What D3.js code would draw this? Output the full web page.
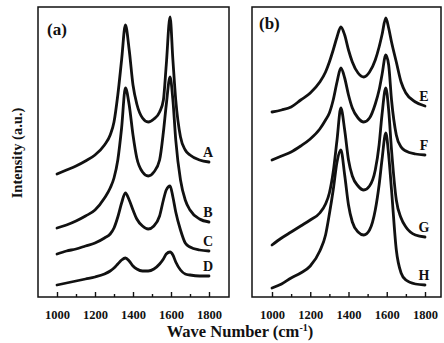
<!DOCTYPE html>
<html>
<head>
<meta charset="utf-8">
<script src="https://cdn.jsdelivr.net/npm/d3@7"></script>
<style>
	body { margin: 0; background: white; }
	svg { display: block; }
	text { font-family: "Liberation Serif", "DejaVu Serif", serif; fill: #111; }
</style>
</head>
<body>
<div id="chart"></div>
<script>
// wave numbers (cm-1) shared by every spectrum
const waveNumbers = [1000, 1050, 1100, 1150, 1200, 1250, 1280, 1300, 1320, 1340, 1360, 1380, 1400, 1420,
	1450, 1480, 1510, 1540, 1560, 1575, 1595, 1610, 1625, 1650, 1675, 1700, 1750, 1800];

// intensities (a.u.), stacked as in the figure
const seriesA = [123, 127, 131, 136, 142, 152, 162, 175, 202, 237, 272, 247, 212, 193,
	179, 175, 178, 185, 197, 232, 280, 237, 197, 160, 147, 142, 137, 135];
const seriesB = [69, 72, 76, 81, 87, 99, 109, 119, 137, 169, 209, 192, 162, 139,
	125, 121, 125, 137, 165, 192, 220, 197, 157, 117, 97, 87, 78, 75];
const seriesC = [43, 46, 48, 51, 54, 59, 63, 69, 80, 94, 104, 97, 87, 78,
	71, 68, 71, 81, 97, 107, 111, 100, 85, 67, 54, 50, 47, 46];
const seriesD = [12, 14, 16, 18, 20, 23, 26, 29, 33, 37, 39, 36, 31, 28,
	26, 26, 28, 33, 38, 43, 45, 42, 35, 27, 23, 22, 21, 21];
const seriesE = [185, 187, 190, 197, 204, 215, 225, 235, 247, 260, 270, 262, 247, 235,
	224, 220, 225, 237, 250, 262, 279, 269, 255, 235, 215, 204, 195, 191];
const seriesF = [137, 141, 145, 151, 158, 168, 177, 184, 197, 215, 229, 219, 202, 189,
	179, 175, 179, 193, 207, 222, 242, 232, 197, 162, 150, 146, 143, 142];
const seriesG = [52, 59, 65, 71, 77, 84, 93, 104, 125, 157, 189, 167, 137, 121,
	111, 107, 111, 127, 152, 182, 209, 187, 147, 97, 79, 70, 62, 60];
const seriesH = [9, 13, 19, 24, 31, 46, 62, 83, 107, 135, 147, 122, 92, 75,
	65, 62, 67, 87, 112, 137, 164, 142, 107, 47, 24, 17, 13, 12];

const majorTicks = [1000, 1200, 1400, 1600, 1800];
const minorTicks = [1100, 1300, 1500, 1700];

const width = 444;
const height = 343;
const frameTop = 7;
const frameBottom = 297;

const svg = d3
	.select('#chart')
	.append('svg')
	.attr('width', width)
	.attr('height', height);

const y = d3.scaleLinear().domain([0, 290]).range([frameBottom, frameTop]);

const panels = [
	{ tag: '(a)', left: 38, right: 229, plot: [57, 209], tagPos: [47, 35],
		curves: [['A', seriesA], ['B', seriesB], ['C', seriesC], ['D', seriesD]] },
	{ tag: '(b)', left: 252, right: 441, plot: [272, 425], tagPos: [259, 29],
		curves: [['E', seriesE], ['F', seriesF], ['G', seriesG], ['H', seriesH]] },
];

panels.forEach((p) => {
	const x = d3.scaleLinear().domain([1000, 1800]).range(p.plot);
	const g = svg.append('g');

	g.append('rect')
		.attr('x', p.left)
		.attr('y', frameTop)
		.attr('width', p.right - p.left)
		.attr('height', frameBottom - frameTop)
		.attr('fill', 'none')
		.attr('stroke', '#111')
		.attr('stroke-width', 1.5);

	// ticks point inward from the bottom edge
	const major = g
		.append('g')
		.attr('transform', `translate(0,${frameBottom})`)
		.call(d3.axisBottom(x).tickValues(majorTicks).tickSize(-5).tickPadding(13).tickFormat(d3.format('d')));
	major.select('.domain').remove();
	major.selectAll('line').attr('stroke', '#111').attr('stroke-width', 1.4);
	major.selectAll('text')
		.attr('font-size', 12.5)
		.attr('font-weight', 'bold')
		.attr('font-family', '"Liberation Serif", serif')
		.attr('fill', '#111');

	const minor = g
		.append('g')
		.attr('transform', `translate(0,${frameBottom})`)
		.call(d3.axisBottom(x).tickValues(minorTicks).tickSize(-3).tickFormat(''));
	minor.select('.domain').remove();
	minor.selectAll('line').attr('stroke', '#111').attr('stroke-width', 1.4);

	const line = d3
		.line()
		.x((d, i) => x(waveNumbers[i]))
		.y((d) => y(d))
		.curve(d3.curveMonotoneX);

	p.curves.forEach(([name, values]) => {
		g.append('path')
			.datum(values)
			.attr('d', line)
			.attr('fill', 'none')
			.attr('stroke', '#111')
			.attr('stroke-width', 2.8)
			.attr('stroke-linejoin', 'round')
			.attr('stroke-linecap', 'round');

		g.append('text')
			.attr('x', x(1800) - 1)
			.attr('y', y(values[values.length - 1]) - 10)
			.attr('text-anchor', 'middle')
			.attr('dominant-baseline', 'central')
			.attr('font-size', 14)
			.attr('font-weight', 'bold')
			.text(name);
	});

	g.append('text')
		.attr('x', p.tagPos[0])
		.attr('y', p.tagPos[1])
		.attr('font-size', 17)
		.attr('font-weight', 'bold')
		.text(p.tag);
});

// axis titles
const xTitle = svg
	.append('text')
	.attr('x', 240)
	.attr('y', 337)
	.attr('text-anchor', 'middle')
	.attr('font-size', 16.5)
	.attr('font-weight', 'bold');
xTitle.append('tspan').text('Wave Number (cm');
xTitle.append('tspan').attr('dy', -6).attr('font-size', 10).text('-1');
xTitle.append('tspan').attr('dy', 6).text(')');

svg.append('text')
	.attr('transform', 'translate(22,153) rotate(-90)')
	.attr('text-anchor', 'middle')
	.attr('font-size', 14.5)
	.attr('font-weight', 'bold')
	.text('Intensity (a.u.)');
</script>
</body>
</html>
